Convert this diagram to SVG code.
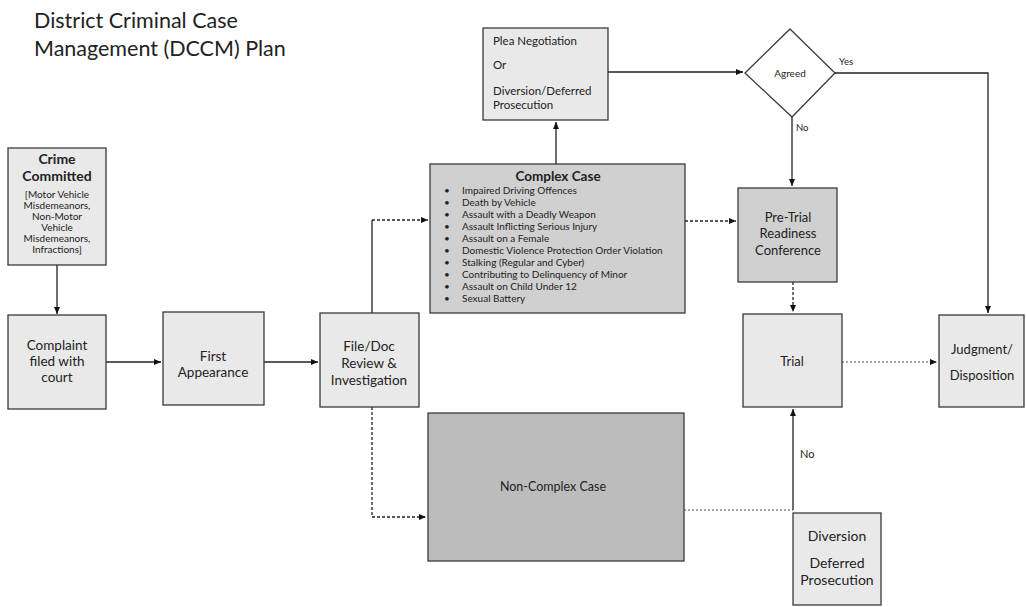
<svg xmlns="http://www.w3.org/2000/svg" width="1026" height="607" viewBox="0 0 1026 607">
<defs>
<marker id="ah" markerWidth="8" markerHeight="8" refX="7" refY="4" orient="auto" markerUnits="userSpaceOnUse">
<path d="M0,1 L7,4 L0,7 Z" fill="#111"/>
</marker>
<style>
.box{stroke:#3a3a3a;stroke-width:1.3;}
.lt{fill:#e9e9e9;}
.md{fill:#d0d0d0;}
.dk{fill:#bcbcbc;}
.t{font-family:Lato,"Open Sans","Liberation Sans",sans-serif;fill:#222;text-anchor:middle;}
.tl{font-family:Lato,"Open Sans","Liberation Sans",sans-serif;fill:#222;}
.c{fill:none;stroke:#222;stroke-width:1.3;}
.dash{stroke-dasharray:3,2;}
.dot{stroke:#888;stroke-dasharray:2,2;}
</style>
</defs>
<rect width="1026" height="607" fill="#ffffff"/>
<g id="title">
<text class="tl" x="34" y="28" font-size="21.5">District Criminal Case</text>
<text class="tl" x="34" y="56" font-size="21.5">Management (DCCM) Plan</text>
</g>
<g id="connectors">
<path class="c" d="M57,265 V314" marker-end="url(#ah)"/>
<path class="c" d="M106,362 H161" marker-end="url(#ah)"/>
<path class="c" d="M264,362 H318" marker-end="url(#ah)"/>
<path class="c" d="M372,313 V220"/>
<path class="c dash" d="M372,220 H428" marker-end="url(#ah)"/>
<path class="c dash" d="M372,407 V517 H426" marker-end="url(#ah)"/>
<path class="c" d="M556,164 V122" marker-end="url(#ah)"/>
<path class="c" d="M608,72 H743" marker-end="url(#ah)"/>
<path class="c dash" d="M685,221 H736" marker-end="url(#ah)"/>
<path class="c" d="M792,117 V186" marker-end="url(#ah)"/>
<path class="c" d="M835,73 H988 V313" marker-end="url(#ah)"/>
<path class="c dash" d="M793,282 V312" marker-end="url(#ah)"/>
<path class="c dot" d="M842,362 H937" marker-end="url(#ah)"/>
<path class="c dot" d="M684,510 H793"/>
<path class="c" d="M793,510 V409" marker-end="url(#ah)"/>
<text class="tl" x="839" y="65" font-size="9.5">Yes</text>
<text class="tl" x="796" y="131" font-size="9.5">No</text>
<text class="tl" x="800" y="458" font-size="11">No</text>
</g>
<g id="crime">
<rect class="box lt" x="8" y="148" width="98" height="117"/>
<text class="t" x="57" y="164" font-size="14" font-weight="bold">Crime</text>
<text class="t" x="57" y="181" font-size="14" font-weight="bold">Committed</text>
<text class="t" x="57" y="198" font-size="10">[Motor Vehicle</text>
<text class="t" x="57" y="209" font-size="10">Misdemeanors,</text>
<text class="t" x="57" y="220" font-size="10">Non-Motor</text>
<text class="t" x="57" y="231" font-size="10">Vehicle</text>
<text class="t" x="57" y="242" font-size="10">Misdemeanors,</text>
<text class="t" x="57" y="253" font-size="10">Infractions]</text>
</g>
<g id="complaint">
<rect class="box lt" x="8" y="315" width="98" height="94"/>
<text class="t" x="57" y="350" font-size="13.5">Complaint</text>
<text class="t" x="57" y="366" font-size="13.5">filed with</text>
<text class="t" x="57" y="382" font-size="13.5">court</text>
</g>
<g id="first">
<rect class="box lt" x="163" y="312" width="101" height="93"/>
<text class="t" x="213" y="361" font-size="13.5">First</text>
<text class="t" x="213" y="377" font-size="13.5">Appearance</text>
</g>
<g id="filedoc">
<rect class="box lt" x="320" y="313" width="99" height="94"/>
<text class="t" x="369" y="351" font-size="13.5">File/Doc</text>
<text class="t" x="369" y="368" font-size="13.5">Review &amp;</text>
<text class="t" x="369" y="385" font-size="13.5">Investigation</text>
</g>
<g id="plea">
<rect class="box lt" x="483" y="28" width="125" height="92"/>
<text class="tl" x="493" y="45" font-size="11.5">Plea Negotiation</text>
<text class="tl" x="493" y="69" font-size="11.5">Or</text>
<text class="tl" x="493" y="95" font-size="11.5">Diversion/Deferred</text>
<text class="tl" x="493" y="109" font-size="11.5">Prosecution</text>
</g>
<g id="agreed">
<path class="box" fill="#ffffff" d="M790,29 L835,73 L792,117 L745,73 Z"/>
<text class="t" x="790" y="77" font-size="10">Agreed</text>
</g>
<g id="complex">
<rect class="box md" x="430" y="164" width="255" height="149"/>
<text class="t" x="558" y="181" font-size="13.5" font-weight="bold">Complex Case</text>
<g class="tl" font-size="10">
<text x="444" y="194">•</text><text x="462" y="194">Impaired Driving Offences</text>
<text x="444" y="206">•</text><text x="462" y="206">Death by Vehicle</text>
<text x="444" y="218">•</text><text x="462" y="218">Assault with a Deadly Weapon</text>
<text x="444" y="230">•</text><text x="462" y="230">Assault Inflicting Serious Injury</text>
<text x="444" y="242">•</text><text x="462" y="242">Assault on a Female</text>
<text x="444" y="254">•</text><text x="462" y="254">Domestic Violence Protection Order Violation</text>
<text x="444" y="266">•</text><text x="462" y="266">Stalking (Regular and Cyber)</text>
<text x="444" y="278">•</text><text x="462" y="278">Contributing to Delinquency of Minor</text>
<text x="444" y="290">•</text><text x="462" y="290">Assault on Child Under 12</text>
<text x="444" y="302">•</text><text x="462" y="302">Sexual Battery</text>
</g>
</g>
<g id="pretrial">
<rect class="box md" x="738" y="188" width="99" height="94"/>
<text class="t" x="788" y="222" font-size="13">Pre-Trial</text>
<text class="t" x="788" y="238" font-size="13">Readiness</text>
<text class="t" x="788" y="255" font-size="13">Conference</text>
</g>
<g id="trial">
<rect class="box lt" x="743" y="314" width="99" height="93"/>
<text class="t" x="792" y="366" font-size="13">Trial</text>
</g>
<g id="judgment">
<rect class="box lt" x="939" y="315" width="85" height="92"/>
<text class="t" x="982" y="354" font-size="13">Judgment/</text>
<text class="t" x="982" y="380" font-size="13">Disposition</text>
</g>
<g id="noncomplex">
<rect class="box dk" x="428" y="413" width="256" height="148"/>
<text class="t" x="553" y="491" font-size="12.5">Non-Complex Case</text>
</g>
<g id="diversion">
<rect class="box lt" x="793" y="513" width="88" height="92"/>
<text class="t" x="837" y="541" font-size="14">Diversion</text>
<text class="t" x="837" y="568" font-size="14">Deferred</text>
<text class="t" x="837" y="585" font-size="14">Prosecution</text>
</g>
</svg>
